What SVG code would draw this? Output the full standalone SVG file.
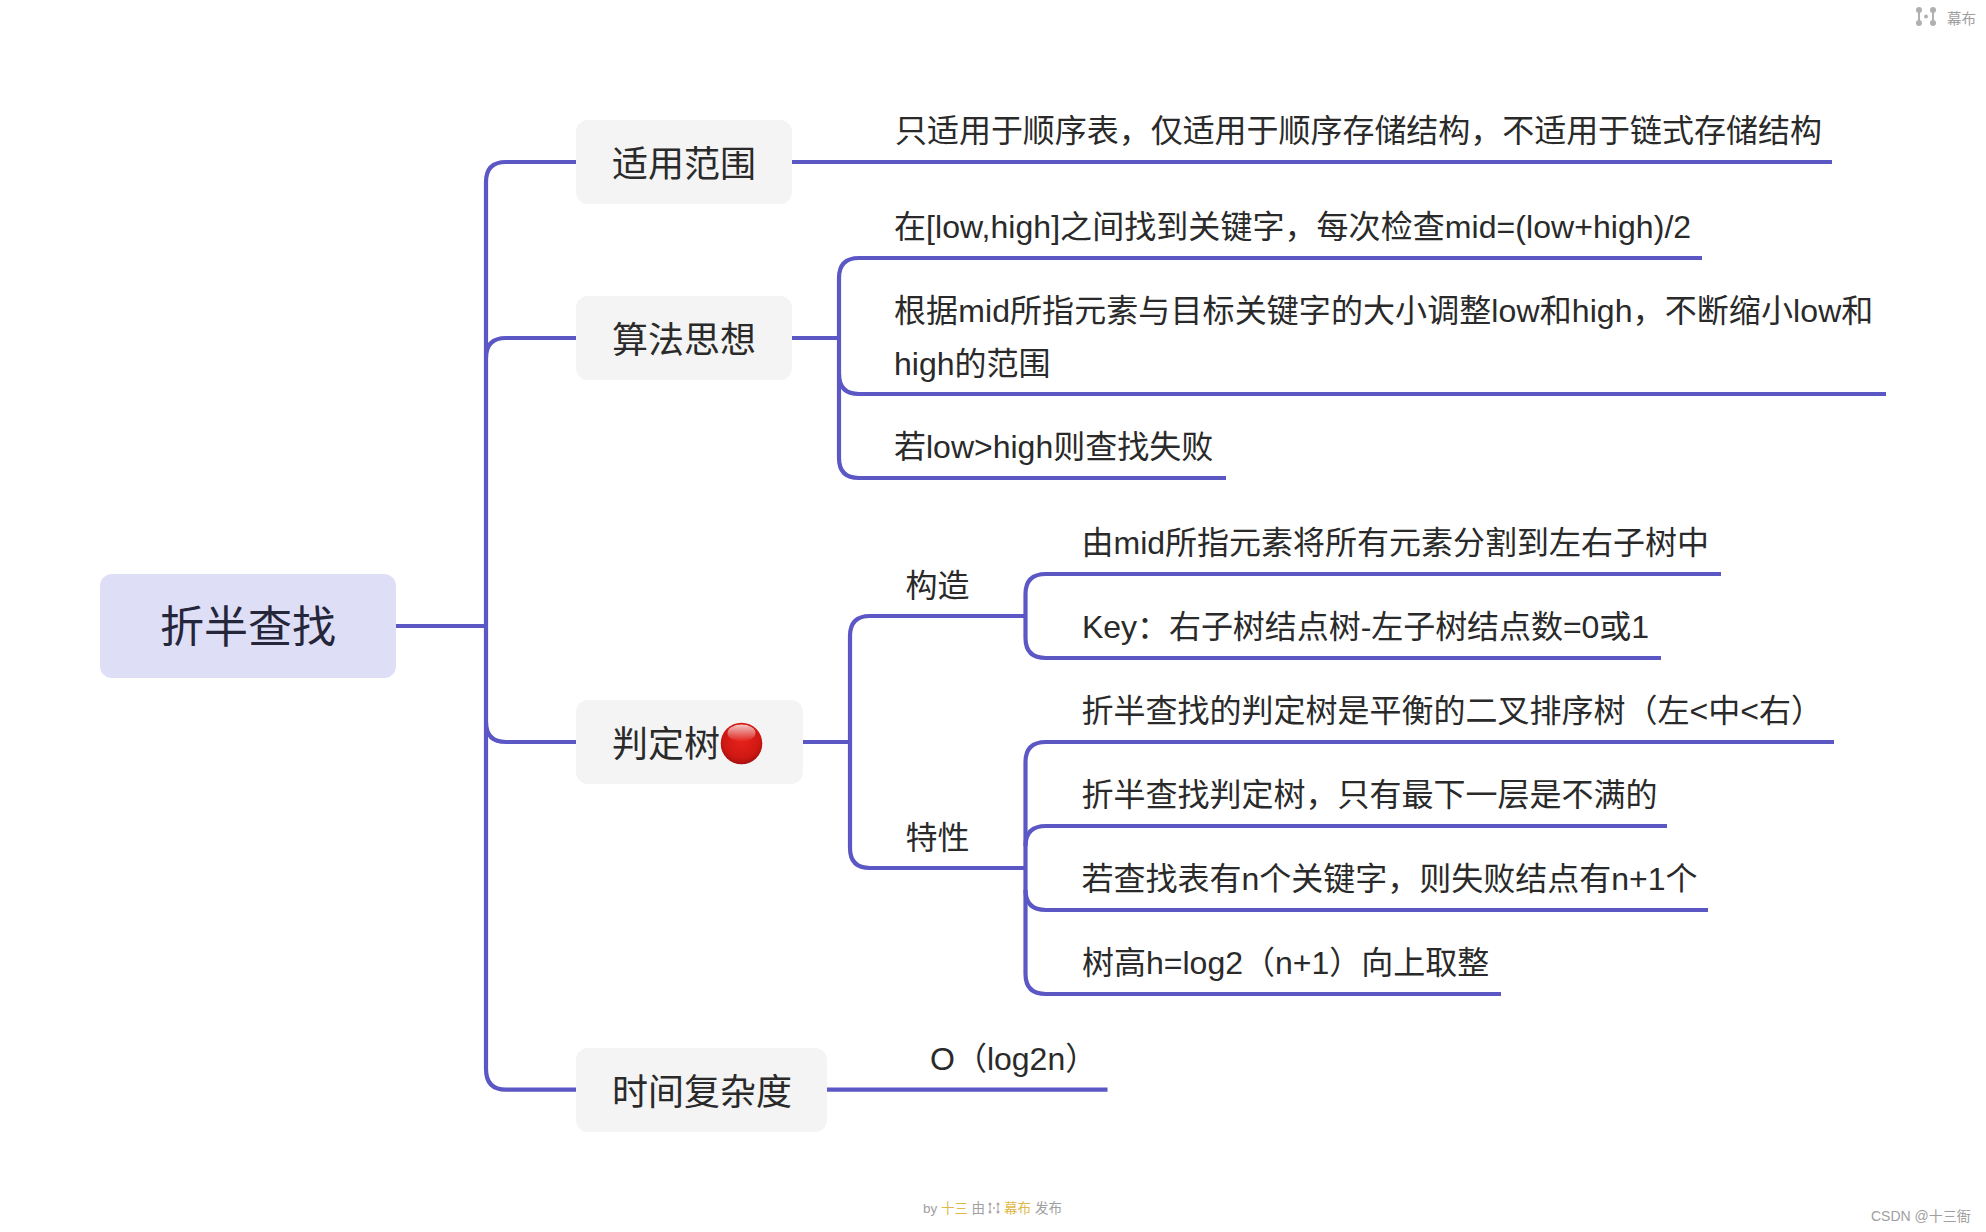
<svg xmlns="http://www.w3.org/2000/svg" width="1986" height="1232" viewBox="0 0 1986 1232">
<style>
text{font-family:"Liberation Sans","Noto Sans CJK SC",sans-serif;fill:#2a2a2a}
.leaf{font-size:32px}
.n{font-size:36px}
.r{font-size:44px;fill:#26263a}
.box{fill:#f4f4f4}
.c path{fill:none;stroke:#5b57c4;stroke-width:4.2}
.f{font-size:13.500px;fill:#a0a0a0}
.y{font-size:13.500px;fill:#e0b84a}
</style>
<defs><radialGradient id="red" cx="0.5" cy="0.42" r="0.62"><stop offset="0" stop-color="#e8231c"/><stop offset="0.7" stop-color="#cf1812"/><stop offset="0.92" stop-color="#a81010"/><stop offset="1" stop-color="#8a0d0a"/></radialGradient><linearGradient id="hl" x1="0" y1="0" x2="0" y2="1"><stop offset="0" stop-color="#ffffff" stop-opacity=".75"/><stop offset="1" stop-color="#ffffff" stop-opacity="0"/></linearGradient></defs>
<rect width="1986" height="1232" fill="#fff"/>
<g class="c" id="connectors">
<path d="M396 626H486"/>
<path d="M576 162H506Q486 162 486 182V1069Q486 1089.700 506 1089.700H576"/>
<path d="M486 358Q486 338 506 338H576"/>
<path d="M486 722Q486 742 506 742H576"/>
<path d="M792 162H1832"/>
<path d="M792 338H839"/>
<path d="M1702 258H859Q839 258 839 278V458Q839 478 859 478H1226"/>
<path d="M839 374Q839 394 859 394H1886"/>
<path d="M803 742H850"/>
<path d="M1025.500 616H870Q850 616 850 636V848Q850 868 870 868H1025.500"/>
<path d="M1721 574H1046Q1025.500 574 1025.500 594V638Q1025.500 658 1046 658H1661"/>
<path d="M1834 742H1046Q1025.500 742 1025.500 762V974Q1025.500 994 1046 994H1501"/>
<path d="M1025.500 846Q1025.500 826 1046 826H1667"/>
<path d="M1025.500 890Q1025.500 910 1046 910H1708"/>
<path d="M827 1089.700H1107.500"/>
</g>
<g id="root"><rect x="100" y="574" width="296" height="104" rx="12" fill="#dedef6"/><text class="r" x="160" y="643">折半查找</text></g>
<g id="n1"><rect class="box" x="576" y="120" width="216" height="84" rx="12"/><text class="n" x="612" y="177">适用范围</text></g>
<g id="n2"><rect class="box" x="576" y="296" width="216" height="84" rx="12"/><text class="n" x="612" y="353">算法思想</text></g>
<g id="n3"><rect class="box" x="576" y="700" width="227" height="84" rx="12"/><text class="n" x="612" y="757">判定树</text><circle cx="741.500" cy="743.500" r="20.800" fill="url(#red)"/><ellipse cx="741.500" cy="733" rx="14" ry="8.500" fill="url(#hl)"/></g>
<g id="n4"><rect class="box" x="576" y="1048" width="251" height="84" rx="12"/><text class="n" x="612" y="1105">时间复杂度</text></g>
<g id="l1"><text class="leaf" x="895" y="142" letter-spacing="-0.040">只适用于顺序表，仅适用于顺序存储结构，不适用于链式存储结构</text></g>
<g id="l2"><text class="leaf" x="894" y="238" letter-spacing="0.060">在[low,high]之间找到关键字，每次检查mid=(low+high)/2</text></g>
<g id="l3"><text class="leaf" x="894" y="322" letter-spacing="0.090">根据mid所指元素与目标关键字的大小调整low和high，不断缩小low和</text><text class="leaf" x="894" y="374.500">high的范围</text></g>
<g id="l4"><text class="leaf" x="894" y="458">若low&gt;high则查找失败</text></g>
<g id="s1"><text class="leaf" x="905.500" y="596.500">构造</text></g>
<g id="s2"><text class="leaf" x="905.500" y="848.500">特性</text></g>
<g id="l5"><text class="leaf" x="1081.500" y="554">由mid所指元素将所有元素分割到左右子树中</text></g>
<g id="l6"><text class="leaf" x="1082" y="638" letter-spacing="-0.050">Key：右子树结点树-左子树结点数=0或1</text></g>
<g id="l7"><text class="leaf" x="1081.500" y="722">折半查找的判定树是平衡的二叉排序树（左&lt;中&lt;右）</text></g>
<g id="l8"><text class="leaf" x="1081.500" y="806">折半查找判定树，只有最下一层是不满的</text></g>
<g id="l9"><text class="leaf" x="1081.500" y="890">若查找表有n个关键字，则失败结点有n+1个</text></g>
<g id="l10"><text class="leaf" x="1082" y="974">树高h=log2（n+1）向上取整</text></g>
<g id="l11"><text class="leaf" x="930" y="1070">O（log2n）</text></g>
<g id="mark"><g fill="#b0b0b0"><circle cx="1919" cy="10" r="3"/><circle cx="1919" cy="23" r="3"/><circle cx="1933" cy="10" r="3"/><circle cx="1933" cy="23" r="3"/><circle cx="1926" cy="16.500" r="2"/><rect x="1918" y="10" width="2" height="13"/><rect x="1932" y="10" width="2" height="13"/></g><text class="f" x="1947" y="24" style="font-size:14.500px">幕布</text></g>
<g id="by"><text class="f" x="923" y="1213">by</text><text class="y" x="941" y="1213">十三</text><text class="f" x="971.500" y="1213">由</text><g fill="#aaa"><circle cx="990" cy="1204" r="1.500"/><circle cx="990" cy="1212" r="1.500"/><circle cx="998" cy="1204" r="1.500"/><circle cx="998" cy="1212" r="1.500"/><circle cx="994" cy="1208" r="1"/><rect x="989.500" y="1204" width="1" height="8"/><rect x="997.500" y="1204" width="1" height="8"/></g><text class="y" x="1004" y="1213">幕布</text><text class="f" x="1035" y="1213">发布</text></g>
<g id="csdn"><text class="f" x="1871" y="1221" style="font-size:14px">CSDN @十三衙</text></g>
</svg>
